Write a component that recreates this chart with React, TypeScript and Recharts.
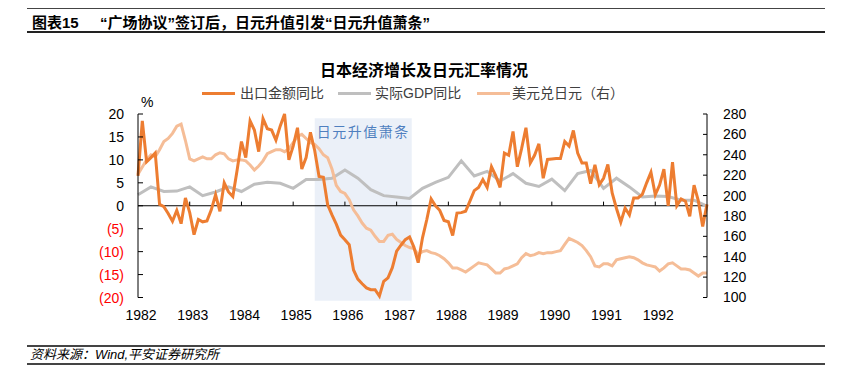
import React from 'react';
import { LineChart, Line, XAxis, YAxis, ReferenceLine, ReferenceArea } from 'recharts';

// monthly index: 0 = Jan 1982, 132 = Jan 1993
const yearLabels = ['1982', '1983', '1984', '1985', '1986', '1987', '1988', '1989', '1990', '1991', '1992'];

// 出口金额同比 (%), monthly
const exportYoY = [
  6.5, 18.5, 9.6, 10.5, 11.5, 0.3, -0.2, -1.7, -3.4, -1.0, -3.9, 1.7,
  -1.5, -6.3, -3.0, -3.5, -3.3, -0.9, 2.4, -1.2, 5.0, 3.0, 2.0, 7.8,
  14.0, 10.5, 18.5, 16.5, 11.8, 19.0, 16.8, 16.5, 14.3, 17.4, 20.0, 10.0,
  13.0, 17.0, 8.0, 10.5, 16.0, 12.0, 6.4, 6.2, 0.2, -2.0, -4.0, -6.4,
  -7.4, -8.5, -14.0, -16.0, -17.0, -17.9, -18.3, -18.3, -19.7, -16.5, -15.7, -13.5,
  -9.9, -8.6, -7.4, -6.8, -9.0, -12.4, -7.0, -3.0, 1.5, 0.0, -1.0, -3.2,
  -3.5, -6.5, -1.6, -1.5, -1.2, 1.0, 3.3, 4.0, 5.7, 4.0, 8.5, 6.5,
  4.0, 11.5, 11.0, 16.2, 8.5, 12.5, 17.0, 9.3, 11.0, 13.5, 6.0, 10.1,
  10.2, 10.3, 10.3, 14.0, 13.0, 16.4, 11.5, 9.3, 9.3, 4.8, 8.9, 4.6,
  6.0, 9.0, 2.8, -0.6, -3.6, -0.5, -2.0, 1.7, 1.7, 2.5, 5.0, 7.3,
  2.4, 4.5, 8.0, 0.0, 9.5, 0.0, 1.5, 1.0, -2.3, 4.5, 1.0, -4.5,
  0.3,
];

// 实际GDP同比 (%), quarterly (every 3rd month)
const gdpYoY = [
  2.4, 4.1, 3.1, 3.2, 4.1, 2.2, 3.0, 4.1, 3.1, 4.7, 5.1, 4.9,
  3.8, 5.7, 5.7, 6.0, 7.8, 6.0, 3.5, 2.2, 1.9, 1.6, 3.8, 5.1,
  6.2, 9.8, 6.5, 7.5, 5.4, 7.0, 4.9, 4.2, 5.8, 3.3, 7.0, 7.7,
  3.8, 6.0, 4.1, 1.9, 2.1, 2.0, 1.2, 1.2, -0.1,
];

// 美元兑日元 (右轴), monthly
const usdJpy = [
  221, 228, 235, 240, 238, 245, 253, 256, 261, 268, 270, 254,
  236, 234, 236, 238, 236, 236, 240, 242, 241, 236, 234, 235,
  235, 234, 230, 225, 229, 234, 241, 243, 245, 245, 243, 246,
  252, 258, 260, 256, 252, 250, 246, 240, 237, 226, 210, 204,
  202, 196, 186, 180, 173, 168, 166, 160, 155, 155, 161, 162,
  157, 154, 151, 149, 148, 142, 145, 146, 144, 143, 141, 138,
  134, 129, 129, 127, 125, 128, 131, 134, 133, 132, 128, 124,
  124, 128, 129, 131, 133, 139, 143, 141, 142, 144, 143, 144,
  144, 145, 146, 152, 158, 156, 154, 151, 146, 140, 131, 130,
  133, 133, 131, 137, 138, 139, 140, 139, 137, 134, 132, 131,
  130, 126, 129, 133, 134, 131, 128, 128, 127, 124, 121, 124,
  124,
];

const leftTicks = [-20, -15, -10, -5, 0, 5, 10, 15, 20];
const rightTicks = [100, 120, 140, 160, 180, 200, 220, 240, 260, 280];
const yearTicks = [0, 12, 24, 36, 48, 60, 72, 84, 96, 108, 120, 132];

// 日元升值萧条 shaded period (month index)
const bandStart = 41;
const bandEnd = 63.5;

const data = usdJpy.map((fx, i) => ({
  m: i,
  exp: exportYoY[i],
  fx,
  gdp: i % 3 === 0 ? gdpYoY[i / 3] : null,
}));

const ORANGE = '#ED7D31';
const GRAY = '#BFBFBF';
const PEACH = '#F5BD97';

function LeftTick({ x, y, payload }: any) {
  const v = payload.value;
  return (
    <text x={x} y={y} dy={5} textAnchor="end" fontSize={14} fill={v < 0 ? '#FF0000' : '#000'}>
      {v < 0 ? `(${-v})` : v}
    </text>
  );
}

const legendItems = [
  { name: '出口金额同比', color: ORANGE, lineX: 202, textX: 240 },
  { name: '实际GDP同比', color: GRAY, lineX: 338, textX: 375 },
  { name: '美元兑日元（右）', color: PEACH, lineX: 477, textX: 512 },
];

export default function App() {
  return (
    <div
      style={{
        position: 'absolute',
        left: 0,
        top: 0,
        width: 845,
        height: 388,
        background: '#fff',
        fontFamily: '"Liberation Sans", Arial, "Noto Sans CJK SC", sans-serif',
        color: '#000',
      }}
    >
      {/* header */}
      <div style={{ position: 'absolute', left: 27, top: 8, width: 798, borderTop: '1px solid #444' }} />
      <div style={{ position: 'absolute', left: 32, top: 13, fontSize: 15, fontWeight: 'bold', lineHeight: '20px' }}>
        图表15
      </div>
      <div style={{ position: 'absolute', left: 100, top: 13, fontSize: 15, fontWeight: 'bold', lineHeight: '20px' }}>
        “广场协议”签订后，日元升值引发“日元升值萧条”
      </div>
      <div style={{ position: 'absolute', left: 27, top: 31, width: 798, borderTop: '2px solid #222' }} />

      {/* title + legend */}
      <div style={{ position: 'absolute', left: 320, top: 61, fontSize: 16, fontWeight: 'bold', lineHeight: '20px' }}>
        日本经济增长及日元汇率情况
      </div>
      {legendItems.map((it) => (
        <React.Fragment key={it.name}>
          <div
            style={{
              position: 'absolute',
              left: it.lineX,
              top: 92,
              width: 33,
              height: 3,
              background: it.color,
            }}
          />
          <div style={{ position: 'absolute', left: it.textX, top: 83, fontSize: 14, lineHeight: '20px', color: '#404040' }}>
            {it.name}
          </div>
        </React.Fragment>
      ))}
      <div style={{ position: 'absolute', left: 141, top: 93, fontSize: 14, lineHeight: '18px' }}>%</div>

      <div style={{ position: 'absolute', left: 0, top: 0 }}>
        <LineChart width={845} height={388} data={data} margin={{ top: 114, right: 78, bottom: 60.5, left: 0 }}>
          <ReferenceArea
            yAxisId="left"
            x1={bandStart}
            x2={bandEnd}
            y1={-20.7}
            y2={19.1}
            fill="#EBF0F8"
            fillOpacity={1}
            stroke="none"
            ifOverflow="visible"
            label={{
              value: '日元升值萧条',
              position: 'insideTop',
              offset: 9,
              fill: '#4F7FBF',
              fontSize: 14,
              letterSpacing: 1.5,
            }}
          />
          <XAxis
            dataKey="m"
            type="number"
            domain={[0, 132]}
            ticks={yearTicks}
            tickFormatter={(v) => yearLabels[v / 12] ?? ''}
            axisLine={false}
            tickLine={false}
            tickSize={0}
            tickMargin={12.5}
            height={30}
            tick={{ fill: '#000', fontSize: 14, dx: 3 }}
            interval={0}
          />
          <YAxis
            yAxisId="left"
            domain={[-20, 20]}
            ticks={leftTicks}
            width={138}
            tickSize={-5}
            tickMargin={19}
            axisLine={{ stroke: '#000' }}
            tickLine={{ stroke: '#000' }}
            tick={<LeftTick />}
            interval={0}
          />
          <YAxis
            yAxisId="right"
            orientation="right"
            domain={[100, 280]}
            ticks={rightTicks}
            width={60}
            tickSize={-4}
            tickMargin={20}
            axisLine={{ stroke: '#000' }}
            tickLine={{ stroke: '#000' }}
            tick={{ fill: '#000', fontSize: 14 }}
            interval={0}
          />
          <ReferenceLine yAxisId="left" y={0} stroke="#000" strokeWidth={1} />
          {yearTicks.slice(1, -1).map((m) => (
            <ReferenceLine
              key={m}
              yAxisId="left"
              segment={[{ x: m, y: 0 }, { x: m, y: 0.9 }]}
              stroke="#000"
              strokeWidth={1}
            />
          ))}
          <Line
            yAxisId="left"
            dataKey="gdp"
            stroke={GRAY}
            strokeWidth={3}
            dot={false}
            connectNulls
            isAnimationActive={false}
          />
          <Line
            yAxisId="right"
            dataKey="fx"
            stroke={PEACH}
            strokeWidth={3}
            dot={false}
            isAnimationActive={false}
          />
          <Line
            yAxisId="left"
            dataKey="exp"
            stroke={ORANGE}
            strokeWidth={3}
            dot={false}
            isAnimationActive={false}
          />
        </LineChart>
      </div>

      {/* footer */}
      <div style={{ position: 'absolute', left: 27, top: 345, width: 798, borderTop: '2px solid #444' }} />
      <div style={{ position: 'absolute', left: 30, top: 346, fontSize: 13, fontStyle: 'italic', lineHeight: '18px' }}>
        资料来源：Wind,平安证券研究所
      </div>
      <div style={{ position: 'absolute', left: 27, top: 363, width: 798, borderTop: '2px solid #444' }} />
    </div>
  );
}
